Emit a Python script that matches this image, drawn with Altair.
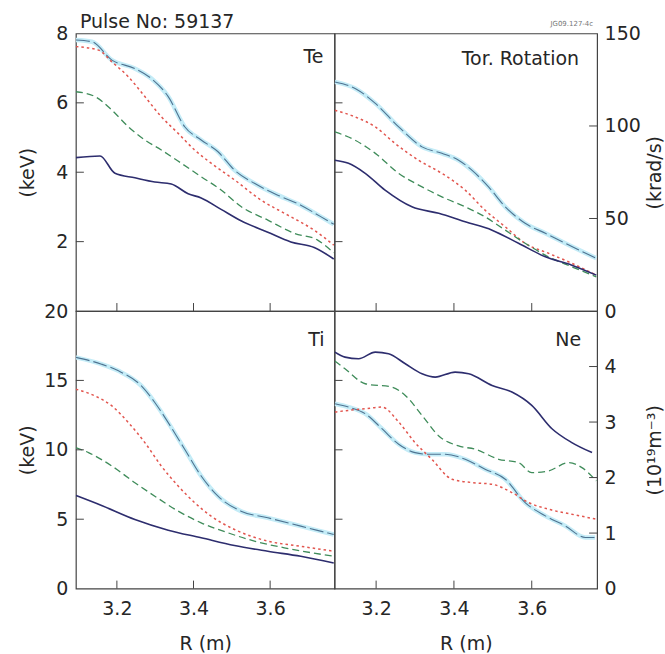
import altair as alt
import pandas as pd

FONT = "DejaVu Sans"
TXT = "#262626"
R_MIN, R_MAX = 3.093, 3.768
X_TICKS = [3.2, 3.4, 3.6]

# ---------------- Te (keV) ----------------
TE_NAVY_R = [3.093, 3.156, 3.195, 3.247, 3.299, 3.342, 3.386, 3.42, 3.472, 3.524, 3.594, 3.654, 3.715, 3.766]
TE_NAVY_V = [4.42, 4.47, 3.97, 3.84, 3.72, 3.66, 3.38, 3.26, 2.93, 2.60, 2.27, 1.99, 1.83, 1.50]
TE_CYAN_R = [3.093, 3.135, 3.187, 3.247, 3.29, 3.334, 3.377, 3.42, 3.464, 3.507, 3.559, 3.62, 3.68, 3.732, 3.766]
TE_CYAN_V = [7.81, 7.76, 7.23, 6.99, 6.70, 6.18, 5.31, 4.93, 4.59, 4.06, 3.68, 3.34, 3.05, 2.72, 2.50]
TE_RED_R = [3.093, 3.152, 3.187, 3.23, 3.273, 3.316, 3.36, 3.403, 3.446, 3.507, 3.576, 3.645, 3.715, 3.766]
TE_RED_V = [7.62, 7.52, 7.18, 6.75, 6.18, 5.60, 5.12, 4.64, 4.26, 3.78, 3.20, 2.77, 2.33, 1.90]
TE_GREEN_R = [3.093, 3.143, 3.187, 3.23, 3.273, 3.316, 3.368, 3.42, 3.472, 3.524, 3.594, 3.663, 3.723, 3.766]
TE_GREEN_V = [6.32, 6.18, 5.79, 5.31, 4.93, 4.64, 4.26, 3.87, 3.49, 3.01, 2.62, 2.24, 2.05, 1.68]

# ---------------- Toroidal rotation (krad/s) ----------------
TOR_CYAN_R = [3.094, 3.146, 3.198, 3.258, 3.318, 3.369, 3.412, 3.446, 3.489, 3.532, 3.583, 3.635, 3.686, 3.766]
TOR_CYAN_V = [123.8, 120.3, 112.2, 99.5, 88.7, 85.2, 81.5, 76.1, 67.1, 56.3, 47.4, 42.0, 36.6, 28.5]
TOR_RED_R = [3.094, 3.146, 3.198, 3.249, 3.309, 3.369, 3.429, 3.48, 3.532, 3.583, 3.643, 3.703, 3.766]
TOR_RED_V = [108.5, 104.9, 99.5, 90.5, 81.5, 74.4, 65.3, 54.5, 45.5, 36.6, 31.2, 25.8, 19.4]
TOR_GREEN_R = [3.094, 3.146, 3.198, 3.258, 3.318, 3.369, 3.429, 3.48, 3.532, 3.583, 3.643, 3.703, 3.766]
TOR_GREEN_V = [96.8, 92.3, 85.2, 74.4, 67.1, 61.7, 56.3, 50.9, 43.7, 36.6, 29.3, 23.9, 18.5]
TOR_NAVY_R = [3.094, 3.129, 3.172, 3.223, 3.292, 3.361, 3.429, 3.498, 3.566, 3.635, 3.703, 3.766]
TOR_NAVY_V = [81.5, 79.8, 74.4, 65.3, 56.3, 52.8, 48.2, 43.7, 36.6, 29.3, 24.8, 19.4]

# ---------------- Ti (keV) ----------------
TI_CYAN_R = [3.093, 3.16, 3.204, 3.264, 3.299, 3.334, 3.377, 3.42, 3.464, 3.524, 3.594, 3.68, 3.766]
TI_CYAN_V = [16.66, 16.17, 15.69, 14.61, 13.41, 11.96, 10.04, 8.11, 6.66, 5.58, 5.10, 4.50, 3.90]
TI_RED_R = [3.093, 3.143, 3.187, 3.23, 3.273, 3.316, 3.36, 3.403, 3.446, 3.507, 3.594, 3.68, 3.766]
TI_RED_V = [14.37, 13.88, 13.16, 11.96, 10.52, 8.83, 7.39, 6.19, 5.22, 4.26, 3.42, 3.05, 2.69]
TI_GREEN_R = [3.093, 3.126, 3.187, 3.247, 3.299, 3.36, 3.42, 3.49, 3.559, 3.637, 3.766]
TI_GREEN_V = [10.16, 9.80, 8.83, 7.63, 6.66, 5.58, 4.74, 4.02, 3.42, 2.94, 2.33]
TI_NAVY_R = [3.093, 3.16, 3.247, 3.334, 3.42, 3.507, 3.594, 3.68, 3.766]
TI_NAVY_V = [6.71, 5.99, 4.98, 4.21, 3.66, 3.10, 2.69, 2.33, 1.85]

# ---------------- Ne (10^19 m^-3) ----------------
NE_NAVY_R = [3.094, 3.12, 3.155, 3.198, 3.232, 3.275, 3.318, 3.352, 3.403, 3.438, 3.498, 3.549, 3.6, 3.652, 3.703, 3.755]
NE_NAVY_V = [4.26, 4.17, 4.14, 4.26, 4.23, 4.05, 3.87, 3.81, 3.90, 3.87, 3.66, 3.54, 3.30, 2.88, 2.63, 2.45]
NE_GREEN_R = [3.094, 3.12, 3.172, 3.24, 3.275, 3.318, 3.361, 3.412, 3.455, 3.515, 3.566, 3.6, 3.643, 3.695, 3.729, 3.766]
NE_GREEN_V = [4.10, 3.96, 3.69, 3.63, 3.48, 3.12, 2.75, 2.57, 2.51, 2.33, 2.27, 2.09, 2.12, 2.27, 2.18, 1.94]
NE_RED_R = [3.094, 3.129, 3.172, 3.215, 3.258, 3.3, 3.343, 3.395, 3.446, 3.498, 3.549, 3.592, 3.643, 3.703, 3.766]
NE_RED_V = [3.18, 3.21, 3.24, 3.27, 3.00, 2.63, 2.33, 1.97, 1.91, 1.88, 1.73, 1.55, 1.43, 1.34, 1.25]
NE_CYAN_R = [3.094, 3.129, 3.172, 3.215, 3.258, 3.3, 3.335, 3.378, 3.429, 3.48, 3.532, 3.583, 3.635, 3.686, 3.738, 3.763]
NE_CYAN_V = [3.33, 3.27, 3.15, 2.88, 2.60, 2.45, 2.42, 2.42, 2.33, 2.15, 1.97, 1.55, 1.31, 1.13, 0.92, 0.92]

STYLE = {
    "halo": dict(color="#c4ecf7", strokeWidth=4.5),
    "cyan": dict(color="#4f7391", strokeWidth=1.1, strokeDash=[14, 4]),
    "red": dict(color="#e2554e", strokeWidth=1.5, strokeDash=[2.5, 3]),
    "green": dict(color="#3f8c5a", strokeWidth=1.3, strokeDash=[7, 4]),
    "navy": dict(color="#2d2d6e", strokeWidth=1.6),
}

W_L, W_R, H = 259, 263, 278
TICK = 8


def xscale():
    return alt.Scale(domain=[R_MIN, R_MAX], nice=False, zero=False)


def yscale(dom):
    return alt.Scale(domain=dom, nice=False, zero=False)


def panel(series, ydom, w, label, lab_dx, lab_y, yvals, ytitle, side, bottom,
          mirror=None, title=None):
    layers = []
    if side == "left":
        yaxis = alt.Axis(values=yvals, orient="left", ticks=False, domain=False, grid=False,
                         labelPadding=8, labelOverlap=False, title=ytitle,
                         titleAngle=270, titleX=-48, titleY=H / 2, titleAlign="center",
                         titleBaseline="middle")
    else:
        yaxis = alt.Axis(values=yvals, orient="right", ticks=False, domain=False, grid=False,
                         labelPadding=7, labelOverlap=False, title=ytitle,
                         titleAngle=270, titleX=57, titleY=H / 2, titleAlign="center",
                         titleBaseline="middle")
    if bottom:
        xaxis = alt.Axis(values=X_TICKS, format=".1f", ticks=False, domain=False, grid=False,
                         labelPadding=11, labelFlush=False, title="R (m)", titlePadding=16)
    else:
        xaxis = None
    independent = mirror is not None
    first = True
    for key in ["halo", "cyan", "red", "green", "navy"]:
        src = "cyan" if key == "halo" else key
        R, V = series[src]
        df = pd.DataFrame({"R": R, "v": V})
        ya = yaxis if (first or not independent) else None
        layers.append(
            alt.Chart(df).mark_line(clip=True, interpolate="monotone", **STYLE[key]).encode(
                x=alt.X("R:Q", scale=xscale(), axis=xaxis),
                y=alt.Y("v:Q", scale=yscale(ydom), axis=ya),
            )
        )
        first = False
    # inward y ticks on the labelled side
    yt = [t for t in yvals if ydom[0] < t < ydom[1]]
    if side == "left":
        xa, xb = 0, TICK
    else:
        xa, xb = w - TICK, w
    layers.append(
        alt.Chart(pd.DataFrame({"t": yt})).mark_rule(color="#444", strokeWidth=1).encode(
            y=alt.Y("t:Q", scale=yscale(ydom), axis=None if independent else yaxis),
            x=alt.value(xa), x2=alt.value(xb))
    )
    # inward x ticks at the bottom edge
    layers.append(
        alt.Chart(pd.DataFrame({"t": X_TICKS})).mark_rule(color="#444", strokeWidth=1).encode(
            x=alt.X("t:Q", scale=xscale(), axis=xaxis),
            y=alt.value(H - TICK), y2=alt.value(H))
    )
    # ticks of the neighbouring left panel, repeated at this panel's left edge
    if independent:
        mvals, mdom = mirror
        layers.append(
            alt.Chart(pd.DataFrame({"m": mvals})).mark_rule(color="#444", strokeWidth=1).encode(
                y=alt.Y("m:Q", scale=yscale(mdom), axis=None),
                x=alt.value(0), x2=alt.value(TICK))
        )
    layers.append(
        alt.Chart(pd.DataFrame({"s": [label]})).mark_text(
            align="right", baseline="top", font=FONT, fontSize=19, color=TXT).encode(
            text="s:N", x=alt.value(w - lab_dx), y=alt.value(lab_y))
    )
    ch = alt.layer(*layers)
    if independent:
        ch = ch.resolve_scale(y="independent")
    props = dict(width=w, height=H)
    if title is not None:
        props["title"] = title
    return ch.properties(**props)


te = {"navy": (TE_NAVY_R, TE_NAVY_V), "cyan": (TE_CYAN_R, TE_CYAN_V),
      "red": (TE_RED_R, TE_RED_V), "green": (TE_GREEN_R, TE_GREEN_V)}
tor = {"navy": (TOR_NAVY_R, TOR_NAVY_V), "cyan": (TOR_CYAN_R, TOR_CYAN_V),
       "red": (TOR_RED_R, TOR_RED_V), "green": (TOR_GREEN_R, TOR_GREEN_V)}
ti = {"navy": (TI_NAVY_R, TI_NAVY_V), "cyan": (TI_CYAN_R, TI_CYAN_V),
      "red": (TI_RED_R, TI_RED_V), "green": (TI_GREEN_R, TI_GREEN_V)}
ne = {"navy": (NE_NAVY_R, NE_NAVY_V), "cyan": (NE_CYAN_R, NE_CYAN_V),
      "red": (NE_RED_R, NE_RED_V), "green": (NE_GREEN_R, NE_GREEN_V)}

TE_TICKS = [2, 4, 6, 8]
TI_TICKS = [0, 5, 10, 15, 20]

tl = panel(te, [0, 8], W_L, "Te", 11, 15, TE_TICKS, "(keV)", "left", False,
           title=alt.TitleParams("Pulse No: 59137", anchor="start", frame="group", fontSize=19,
                                 font=FONT, fontWeight="normal", color=TXT, offset=2, dx=4, dy=10))
tr = panel(tor, [0, 150], W_R, "Tor. Rotation", 18, 17, [0, 50, 100, 150], "(krad/s)", "right", False,
           mirror=([2, 4, 6], [0, 8]),
           title=alt.TitleParams("JG09.127-4c", anchor="end", frame="group", fontSize=7,
                                 font=FONT, fontWeight="normal", color="#777", offset=4, dx=-4, dy=7))
bl = panel(ti, [0, 20], W_L, "Ti", 10, 20, TI_TICKS, "(keV)", "left", True)
br = panel(ne, [0, 5], W_R, "Ne", 16, 20, [0, 1, 2, 3, 4], "(10¹⁹m⁻³)", "right", True,
           mirror=([5, 10, 15], [0, 20]))

chart = alt.concat(tl, tr, bl, br, columns=2, spacing=0, bounds="flush", align="each").properties(
    padding={"left": 18, "top": 12, "right": 0, "bottom": 0},
    background="white",
).configure_view(
    stroke="#444", strokeWidth=1.2
).configure_axis(
    labelFont=FONT, labelFontSize=19, labelColor=TXT,
    titleFont=FONT, titleFontSize=19, titleFontWeight="normal", titleColor=TXT,
)

chart.save("out.html", embed_options={"renderer": "svg", "actions": False})
